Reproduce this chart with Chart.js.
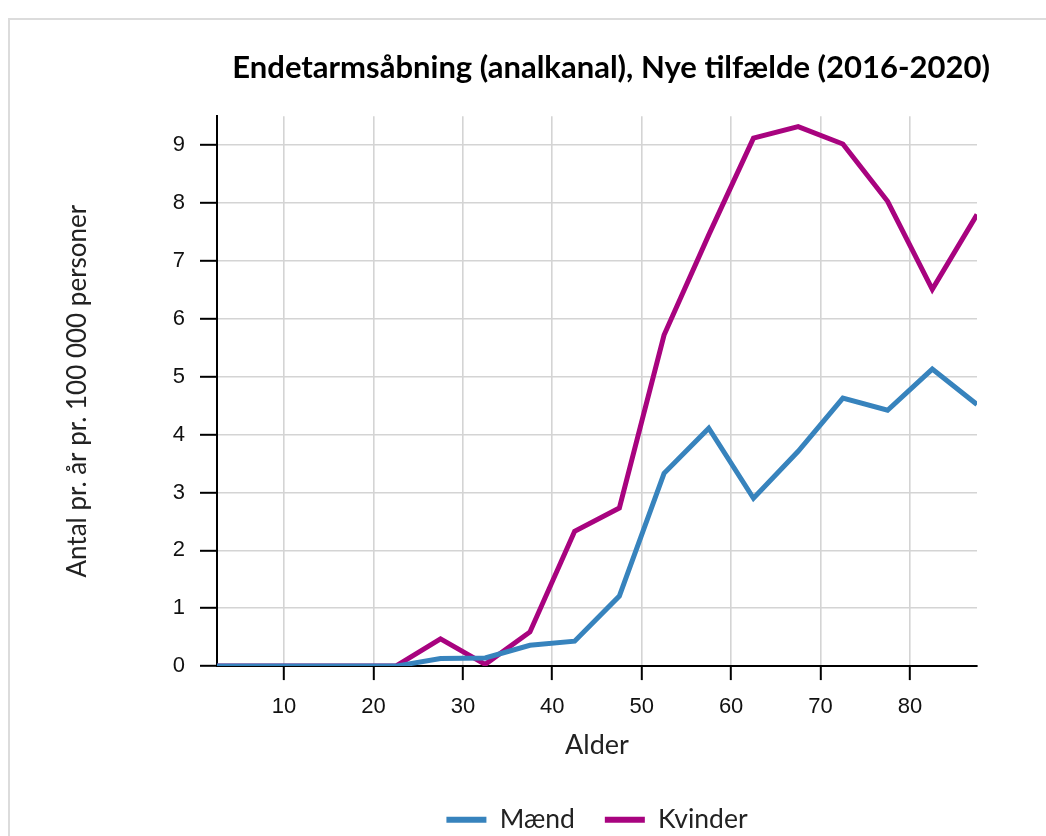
<!DOCTYPE html>
<html>
<head>
<meta charset="utf-8">
<script src="https://cdn.jsdelivr.net/npm/chart.js@4"></script>
<style>
html,body{margin:0;padding:0;background:#fff;overflow:hidden;width:1046px;height:836px;}
#frame{position:absolute;left:8px;top:18px;width:1200px;height:1000px;border-left:2px solid #dcdcdc;border-top:2px solid #dcdcdc;}
#wrap{position:absolute;left:0;top:0;width:1046px;height:836px;}
</style>
</head>
<body>
<div id="frame"></div>
<div id="wrap"><canvas id="c" width="1046" height="836"></canvas></div>
<script>
const ages = [2.5, 7.5, 12.5, 17.5, 22.5, 27.5, 32.5, 37.5, 42.5, 47.5, 52.5, 57.5, 62.5, 67.5, 72.5, 77.5, 82.5, 87.5];
const maend = [0, 0, 0, 0, 0, 0.13, 0.14, 0.36, 0.43, 1.21, 3.33, 4.11, 2.90, 3.71, 4.63, 4.42, 5.13, 4.52];
const kvinder = [0, 0, 0, 0, 0, 0.47, 0.03, 0.59, 2.33, 2.73, 5.72, 7.45, 9.12, 9.32, 9.02, 8.03, 6.51, 7.80];
const seriesNames = ['Mænd', 'Kvinder'];
const titleText = 'Endetarmsåbning (analkanal), Nye tilfælde (2016-2020)';
const xTitle = 'Alder';
const yTitle = 'Antal pr. år pr. 100 000 personer';

const blue = '#3783bd';
const magenta = '#a8037f';

const minorTicks = {
  id: 'minorTicks',
  afterLayout(chart) {
    // centre the legend row over the plot area
    if (chart.legend) {
      chart.legend.left = chart.chartArea.left;
      chart.legend.right = chart.chartArea.right;
    }
  },
  afterDraw(chart) {
    const y = chart.scales.y;
    const ctx = chart.ctx;
    ctx.save();
    ctx.strokeStyle = '#000';
    ctx.lineWidth = 2;
    y.ticks.forEach(t => {
      if (Math.abs(t.value % 1) > 1e-6) {
        const py = Math.round(y.getPixelForValue(t.value));
        ctx.beginPath();
        ctx.moveTo(y.right - 9, py);
        ctx.lineTo(y.right, py);
        ctx.stroke();
      }
    });
    ctx.restore();
  }
};

const toPts = arr => arr.map((v, i) => ({x: ages[i], y: v}));

new Chart(document.getElementById('c'), {
  type: 'line',
  data: {
    datasets: [
      {label: seriesNames[0], data: toPts(maend), borderColor: blue, backgroundColor: blue, borderWidth: 5, pointRadius: 0, tension: 0, clip: 0},
      {label: seriesNames[1], data: toPts(kvinder), borderColor: magenta, backgroundColor: magenta, borderWidth: 5, pointRadius: 0, tension: 0, clip: 0}
    ]
  },
  plugins: [minorTicks],
  options: {
    responsive: false,
    animation: false,
    layout: {padding: {left: 62, right: 56, top: 49, bottom: -7}},
    plugins: {
      title: {
        display: true,
        text: titleText,
        align: 'end',
        color: '#000',
        font: {family: 'Lato', weight: 'bold', size: 31},
        padding: {top: 0, bottom: 30}
      },
      legend: {
        position: 'bottom',
        labels: {
          color: '#222',
          font: {family: 'Lato', size: 26.5},
          boxWidth: 40,
          boxHeight: 6,
          padding: 30,
          generateLabels(chart) {
            return Chart.defaults.plugins.legend.labels.generateLabels(chart).map(l => ({...l, lineWidth: 0}));
          }
        }
      },
      tooltip: {enabled: false}
    },
    scales: {
      x: {
        type: 'linear',
        min: 2.5,
        max: 87.5,
        ticks: {stepSize: 10, includeBounds: false, color: '#111', font: {family: 'Liberation Sans', size: 22}, padding: 14},
        grid: {color: '#d4d4d4', lineWidth: 1.6, tickColor: '#000', tickLength: 14, tickWidth: 2},
        border: {color: '#000', width: 2},
        title: {display: true, text: xTitle, color: '#222', font: {family: 'Lato', size: 27, lineHeight: 1}, padding: {top: -3, bottom: 18}}
      },
      y: {
        min: 0,
        max: 9.5,
        ticks: {stepSize: 0.5, color: '#111', font: {family: 'Liberation Sans', size: 22}, padding: 15,
          callback: v => (Math.abs(v % 1) < 1e-6 ? String(v) : '')},
        grid: {color: '#d4d4d4', lineWidth: 1.6, tickLength: 17, tickWidth: 2,
          tickColor: c => (Math.abs(c.tick.value % 1) < 1e-6 ? '#000' : 'rgba(0,0,0,0)')},
        border: {color: '#000', width: 2},
        title: {display: true, text: yTitle, color: '#222', font: {family: 'Lato', size: 26}, padding: {top: 0, bottom: 30}},
        afterFit(s) { s.width = 155; }
      },
      yr: {
        position: 'right',
        display: true,
        ticks: {display: false},
        grid: {display: false, drawTicks: false},
        border: {display: false},
        afterFit(s) { s.width = 13; }
      }
    }
  }
});
</script>
</body>
</html>
